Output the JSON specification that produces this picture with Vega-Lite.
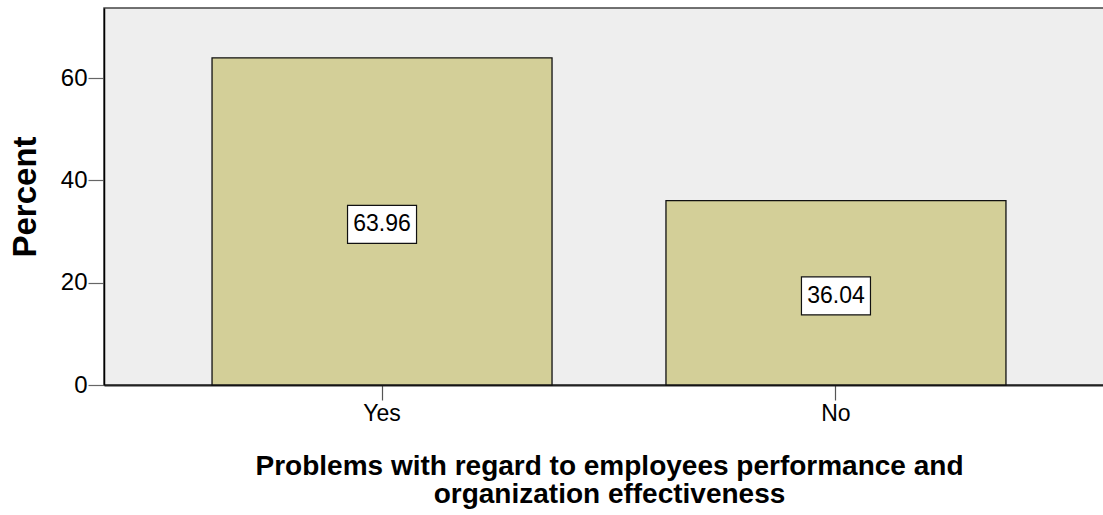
{
  "$schema": "https://vega.github.io/schema/vega-lite/v6.json",
  "autosize": {"type": "none"},
  "padding": {"left": 104, "top": 8, "right": 0, "bottom": 130},
  "width": 1010,
  "height": 377,
  "background": "white",
  "config": {
    "view": {"fill": "#eeeeee", "stroke": "#444444", "strokeWidth": 1.5},
    "font": "Liberation Sans"
  },
  "data": {"values": [
    {"answer": "Yes", "percent": 63.96},
    {"answer": "No", "percent": 36.04}
  ]},
  "transform": [{"calculate": "datum.percent / 2", "as": "mid"}],
  "encoding": {
    "x": {
      "field": "answer", "type": "nominal", "sort": ["Yes", "No"],
      "scale": {"paddingInner": 0.251, "paddingOuter": 0.238},
      "axis": {
        "title": ["Problems with regard to employees performance and", "organization effectiveness"],
        "titleFont": "Liberation Sans", "titleFontSize": 28, "titleFontWeight": "bold", "titleColor": "#000",
        "titleLineHeight": 28, "titlePadding": 27,
        "labelAngle": 0, "labelFontSize": 23, "labelColor": "#000", "labelPadding": 2,
        "tickSize": 15, "tickColor": "#555", "tickWidth": 1.2,
        "domainColor": "#222", "domainWidth": 2
      }
    }
  },
  "layer": [
    {
      "mark": {"type": "bar", "fill": "#d3cf98", "stroke": "#111", "strokeWidth": 1.3},
      "encoding": {
        "y": {
          "field": "percent", "type": "quantitative",
          "scale": {"domain": [0, 73.7], "nice": false, "zero": true},
          "axis": {
            "title": "Percent", "titleFont": "Liberation Sans", "titleFontSize": 33, "titleFontWeight": "bold", "titleColor": "#000",
            "titlePadding": 18,
            "values": [0, 20, 40, 60], "grid": false,
            "labelFontSize": 24, "labelColor": "#000", "labelPadding": 1,
            "tickSize": 16, "tickColor": "#666", "tickWidth": 1.2,
            "domainColor": "#000", "domainWidth": 1.5
          }
        }
      }
    },
    {
      "mark": {"type": "point", "shape": "M-1.816,-1H1.816V1H-1.816Z", "size": 1444, "filled": true, "fill": "white", "stroke": "#111", "strokeWidth": 1.2, "opacity": 1, "yOffset": 3},
      "encoding": {"y": {"field": "mid", "type": "quantitative"}}
    },
    {
      "mark": {"type": "text", "fontSize": 23, "color": "#000", "baseline": "middle", "align": "center", "yOffset": 3},
      "encoding": {
        "y": {"field": "mid", "type": "quantitative"},
        "text": {"field": "percent", "type": "quantitative", "format": ".2f"}
      }
    }
  ]
}
